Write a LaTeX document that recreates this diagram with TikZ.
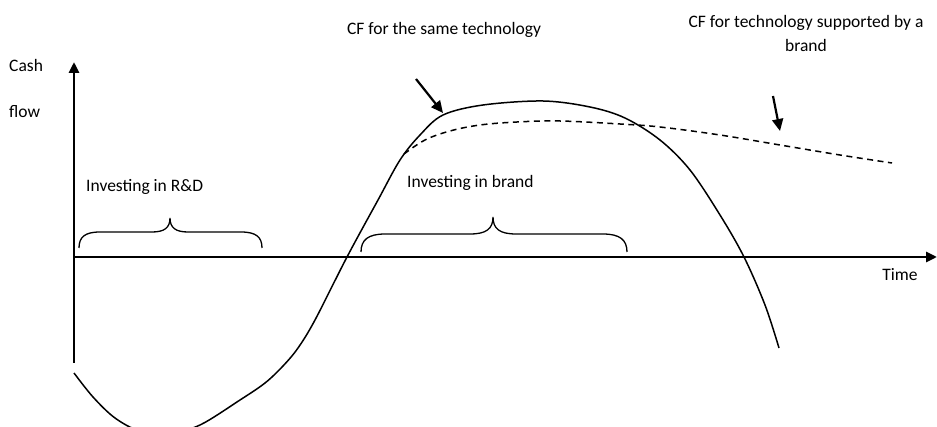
\documentclass[tikz,border=0pt]{standalone}
\usepackage{fontspec}
\setmainfont{Carlito}
\usetikzlibrary{arrows.meta}
\begin{document}
\begin{tikzpicture}[x=1pt,y=-1pt,
  lbl/.style={inner sep=0pt,font=\fontsize{17.5}{24}\selectfont},
  axisline/.style={line width=2.8pt,-{Triangle[length=11pt,width=10pt]}},
  curveline/.style={line width=1.5pt},
  dashline/.style={line width=1.5pt,dash pattern=on 6pt off 4.5pt},
  pointer/.style={line width=2.2pt,-{Triangle[length=12pt,width=11pt]}},
  bracepath/.style={line width=1.3pt}]
\useasboundingbox (0,0) rectangle (937,427);
\begin{scope}
\clip (0,0) rectangle (937,427);
% axes
\coordinate (O) at (74,257);
\coordinate (ybot) at (74,363);
\coordinate (ytop) at (74,62);
\coordinate (xend) at (937,257);
\draw[axisline] (ybot) -- (ytop);
\draw[axisline] (O) -- (xend);
% solid curve
\draw[curveline] plot[smooth,tension=0.55] coordinates {
 (74,373) (93,397) (115,418) (140,431) (170,433) (200,425) (240,400) (265,383)
 (283,366) (298,348) (315,320) (347,257) (378,200) (400,160) (420,135) (443,115)
 (483,105) (543,101) (590,107) (625,118) (660,140) (690,170) (720,215) (744,257) (765,305) (779,348)};
% dashed curve
\draw[dashline] plot[smooth,tension=0.6] coordinates {
 (404,154) (425,140) (450,131) (480,125) (517,122) (560,121) (620,124) (660,127) (720,135) (780,145) (840,155) (892,163)};
\end{scope}
% braces
\draw[bracepath] (79,248) .. controls (79,237) and (85,232) .. (100,232) -- (152,232)
  .. controls (164,232) and (170,228) .. (170,218)
  .. controls (170,228) and (176,232) .. (188,232) -- (241,232)
  .. controls (256,232) and (262,237) .. (262,248);
\draw[bracepath] (361,252) .. controls (361,240) and (368,234) .. (385,234) -- (470,234)
  .. controls (486,234) and (493,229) .. (493,217)
  .. controls (493,229) and (500,234) .. (516,234) -- (603,234)
  .. controls (620,234) and (627,240) .. (627,252);
% labels
\node[lbl,anchor=west] (cash) at (9,65) {Cash};
\node[lbl,anchor=west] (flow) at (9,112) {flow};
\node[lbl] (same) at (444,30) {CF for the same technology};
\node[lbl,align=center] (brandcf) at (806,33) {CF for technology supported by a\\brand};
\node[lbl,anchor=west] (rd) at (86,187) {Investing in R\&D};
\node[lbl,anchor=west] (inv) at (407,183) {Investing in brand};
\node[lbl] (time) at (900,275) {Time};
% pointer arrows
\coordinate (p1s) at (416,79);
\coordinate (p1e) at (443,113);
\coordinate (p2s) at (773,96);
\coordinate (p2e) at (780,131);
\draw[pointer] (p1s) -- (p1e);
\draw[pointer] (p2s) -- (p2e);
\end{tikzpicture}
\end{document}
